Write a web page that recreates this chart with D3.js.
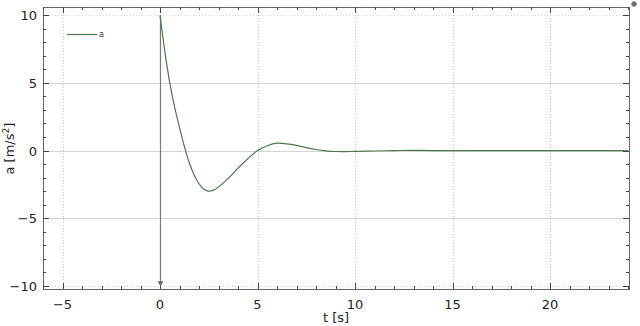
<!DOCTYPE html>
<html>
<head>
<meta charset="utf-8">
<script src="https://cdn.jsdelivr.net/npm/d3@7"></script>
<style>
  body { margin: 0; background: #fff; }
  svg { display: block; font-family: "DejaVu Sans", sans-serif; }
</style>
</head>
<body>
<svg></svg>
<script>
var tValues = [0, 0.25, 0.5, 0.75, 1.0, 1.25, 1.5, 1.75, 2.0, 2.25, 2.5, 2.75, 3.0, 3.5, 4.0, 4.5, 5.0, 5.5, 6.0, 6.5, 7.0, 7.5, 8.0, 8.5, 9.0, 9.5, 10, 11, 12, 13, 14, 16, 18, 20, 22, 24];
var aValues = [10, 7.3, 5.0, 3.2, 1.7, 0.3, -0.9, -1.8, -2.45, -2.85, -3.0, -2.92, -2.68, -2.05, -1.3, -0.6, 0.0, 0.36, 0.55, 0.5, 0.38, 0.22, 0.08, -0.02, -0.07, -0.08, -0.06, -0.03, 0, 0.01, 0, 0, 0, 0, 0, 0];
var xTicks = [-5, 0, 5, 10, 15, 20];
var yTicks = [-10, -5, 0, 5, 10];
var seriesName = "a";

var svgWidth = 640, svgHeight = 326;
var margin = { left: 43, top: 7, right: 11, bottom: 37 };
var plotW = svgWidth - margin.left - margin.right,
    plotH = svgHeight - margin.top - margin.bottom;

var svg = d3.select('svg')
    .attr('width', svgWidth)
    .attr('height', svgHeight);

var x = d3.scaleLinear().domain([-6, 24.05]).range([margin.left, margin.left + plotW]);
var y = d3.scaleLinear().domain([-10.22, 10.6]).range([margin.top + plotH, margin.top]);

var g = svg.append('g');

// horizontal grid
g.selectAll('line.hgrid')
    .data(yTicks)
    .enter()
    .append('line')
    .attr('x1', x.range()[0]).attr('x2', x.range()[1])
    .attr('y1', function(d) { return Math.round(y(d)) + 0.5; })
    .attr('y2', function(d) { return Math.round(y(d)) + 0.5; })
    .attr('stroke', '#d4d4d4')
    .attr('stroke-dasharray', function(d) { return Math.abs(d) == 10 ? '1,2' : null; });

// vertical grid (dotted)
g.selectAll('line.vgrid')
    .data(xTicks.filter(function(d) { return d != 0; }))
    .enter()
    .append('line')
    .attr('x1', function(d) { return Math.round(x(d)) + 0.5; })
    .attr('x2', function(d) { return Math.round(x(d)) + 0.5; })
    .attr('y1', y.range()[0]).attr('y2', y.range()[1])
    .attr('stroke', '#c4c4c4')
    .attr('stroke-dasharray', '1,2');

// frame with inward ticks on all sides
var minorX = d3.range(-6, 25, 1), minorY = d3.range(-10, 11, 1);
function tickLen(d, major) { return major.indexOf(d) >= 0 ? 6 : 3; }

var axisG = g.append('g').attr('stroke', '#444').attr('stroke-width', 1);
axisG.append('rect')
    .attr('x', margin.left + 0.5).attr('y', margin.top + 0.5)
    .attr('width', plotW).attr('height', plotH)
    .attr('fill', 'none').attr('stroke', '#666');

minorX.forEach(function(d) {
    var px = Math.round(x(d)) + 0.5, L = tickLen(d, xTicks);
    axisG.append('line').attr('x1', px).attr('x2', px)
        .attr('y1', y.range()[0]).attr('y2', y.range()[0] - L);
    axisG.append('line').attr('x1', px).attr('x2', px)
        .attr('y1', y.range()[1]).attr('y2', y.range()[1] + L);
});
minorY.forEach(function(d) {
    var py = Math.round(y(d)) + 0.5, L = tickLen(d, yTicks);
    axisG.append('line').attr('y1', py).attr('y2', py)
        .attr('x1', x.range()[0]).attr('x2', x.range()[0] + L);
    axisG.append('line').attr('y1', py).attr('y2', py)
        .attr('x1', x.range()[1]).attr('x2', x.range()[1] - L);
});

// tick labels
g.selectAll('text.xt')
    .data(xTicks)
    .enter()
    .append('text')
    .attr('x', function(d) { return x(d); })
    .attr('y', 309)
    .attr('text-anchor', 'middle')
    .attr('font-size', '13px')
    .attr('fill', '#222')
    .text(function(d) { return d < 0 ? '\u2212' + Math.abs(d) : d; });

g.selectAll('text.yt')
    .data(yTicks)
    .enter()
    .append('text')
    .attr('x', 37)
    .attr('y', function(d) { return y(d) + 5; })
    .attr('text-anchor', 'end')
    .attr('font-size', '13px')
    .attr('fill', '#222')
    .text(function(d) { return d < 0 ? '\u2212' + Math.abs(d) : d; });

// axis labels
svg.append('text')
    .attr('x', 336).attr('y', 322)
    .attr('text-anchor', 'middle')
    .attr('font-size', '13px')
    .attr('fill', '#222')
    .text('t [s]');

var yl = svg.append('text')
    .attr('transform', 'translate(14,' + (y(0) - 2) + ') rotate(-90)')
    .attr('text-anchor', 'middle')
    .attr('font-size', '13px')
    .attr('fill', '#222');
yl.append('tspan').text('a [m/s');
yl.append('tspan').attr('dy', -5).attr('font-size', '9px').text('2');
yl.append('tspan').attr('dy', 5).text(']');

// vertical line at t = 0 with arrow head
g.append('line')
    .attr('x1', Math.round(x(0)) + 0.5).attr('x2', Math.round(x(0)) + 0.5)
    .attr('y1', y(10)).attr('y2', y(-9.75))
    .attr('stroke', '#7a7a7a')
    .attr('stroke-width', 1.2);
g.append('path')
    .attr('d', 'M' + (x(0) - 2.5) + ',' + (y(-9.65)) + ' L' + (x(0) + 3.5) + ',' + (y(-9.65)) + ' L' + (x(0) + 0.5) + ',' + (y(-9.65) + 5) + ' Z')
    .attr('fill', '#666');

// curve
var line = d3.line()
    .x(function(d, i) { return x(tValues[i]); })
    .y(function(d) { return y(d); })
    .curve(d3.curveCatmullRom.alpha(0.5));

g.append('path')
    .datum(aValues)
    .attr('d', line)
    .attr('fill', 'none')
    .attr('stroke', '#4a7a4a')
    .attr('stroke-width', 1.2);

// legend
svg.append('line')
    .attr('x1', 67).attr('x2', 97)
    .attr('y1', 34.5).attr('y2', 34.5)
    .attr('stroke', '#4a7a4a')
    .attr('stroke-width', 1.2);
svg.append('text')
    .attr('x', 99).attr('y', 37)
    .attr('font-size', '8px')
    .attr('fill', '#333')
    .text(seriesName);

// small icon top right
svg.append('circle')
    .attr('cx', 634).attr('cy', 4).attr('r', 2.5)
    .attr('fill', '#666').attr('stroke', '#999');
</script>
</body>
</html>
